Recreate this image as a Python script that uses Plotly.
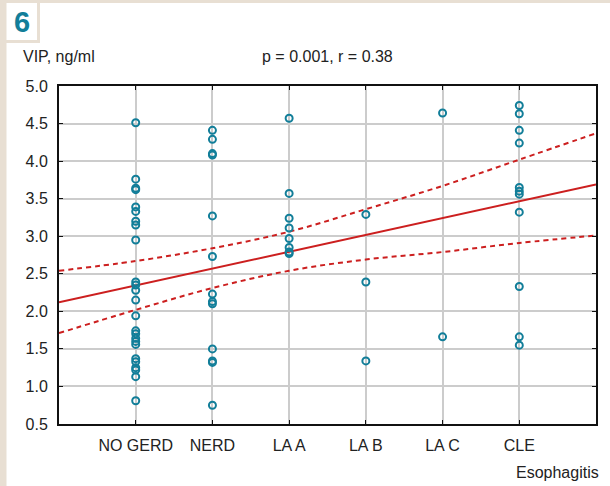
import plotly.graph_objects as go

# categories on the x axis (positions 1..6)
categories = ["NO GERD", "NERD", "LA A", "LA B", "LA C", "CLE"]

# VIP, ng/ml per group
no_gerd = [4.51, 3.76, 3.64, 3.62, 3.39, 3.33, 3.20, 3.15, 2.95, 2.39, 2.35, 2.28, 2.15,
           1.94, 1.74, 1.70, 1.64, 1.60, 1.56, 1.37, 1.33, 1.25, 1.22, 1.13, 0.81]
nerd = [4.41, 4.29, 4.10, 4.08, 3.27, 2.73, 2.23, 2.13, 2.10, 1.50, 1.34, 1.32, 0.75]
la_a = [4.57, 3.57, 3.24, 3.11, 2.97, 2.85, 2.79, 2.77]
la_b = [3.29, 2.39, 1.34]
la_c = [4.64, 1.66]
cle = [4.74, 4.63, 4.41, 4.24, 3.65, 3.60, 3.56, 3.32, 2.33, 1.66, 1.55]
groups = [no_gerd, nerd, la_a, la_b, la_c, cle]

# regression line and 95% band, sampled at x = 0..7
fit_x = [0, 7]
fit_y = [2.12, 3.69]
band_x = [0, 1, 2, 3, 4, 5, 6, 7]
band_upper = [2.54, 2.67, 2.84, 3.06, 3.36, 3.67, 4.02, 4.37]
band_lower = [1.71, 2.02, 2.31, 2.54, 2.69, 2.79, 2.91, 3.01]

W, H = 610, 486
L, R, T, B = 59, 14, 86, 62
PW, PH = W - L - R, H - T - B

def px(x):
    return (x - L) / PW

def py(y):
    return 1 - (y - T) / PH

BEIGE = "#e8dfd3"
TEAL = "#127e99"
RED = "#cc1f1f"
TXT = "#222222"

xs, ys = [], []
for i, g in enumerate(groups):
    xs += [i + 1] * len(g)
    ys += g

fig = go.Figure()
fig.add_trace(go.Scatter(x=band_x, y=band_upper, mode="lines", line_shape="spline",
                         line=dict(color=RED, width=2, dash="5px,4px"), hoverinfo="skip"))
fig.add_trace(go.Scatter(x=band_x, y=band_lower, mode="lines", line_shape="spline",
                         line=dict(color=RED, width=2, dash="5px,4px"), hoverinfo="skip"))
fig.add_trace(go.Scatter(x=fit_x, y=fit_y, mode="lines",
                         line=dict(color=RED, width=2)))
fig.add_trace(go.Scatter(x=xs, y=ys, mode="markers",
                         marker=dict(symbol="circle-open", size=7, color=TEAL,
                                     line=dict(width=2, color=TEAL))))

# beige frame pieces
rects = [(0, 0, 6.5, H), (0, 0, W, 3), (37, 0, 40, 43), (6, 40, 40, 43)]
for x0, y0, x1, y1 in rects:
    fig.add_shape(type="rect", xref="paper", yref="paper",
                  x0=px(x0), x1=px(x1), y0=py(y1), y1=py(y0),
                  fillcolor=BEIGE, line_width=0, layer="below")

font = dict(family="Liberation Sans, Arial, sans-serif", size=16, color=TXT)

def label(text, x, y, xanchor="center", f=font):
    fig.add_annotation(text=text, x=px(x), y=py(y), xref="paper", yref="paper",
                       xanchor=xanchor, yanchor="middle", showarrow=False, font=f)

label("<b>6</b>", 22, 22, f=dict(family="Liberation Sans, Arial", size=29, color=TEAL))
label("VIP, ng/ml", 21, 57, xanchor="left")
label("p = 0.001, r = 0.38", 327, 57)
label("Esophagitis", 601, 472, xanchor="right")

fig.update_layout(
    width=W, height=H, margin=dict(l=L, r=R, t=T, b=B),
    paper_bgcolor="white", plot_bgcolor="white", showlegend=False, font=font,
    xaxis=dict(range=[0, 7], tickvals=[1, 2, 3, 4, 5, 6], ticktext=categories,
               showgrid=True, gridcolor="#cccccc", gridwidth=1.5, zeroline=False,
               showline=True, linecolor="#111111", linewidth=2, mirror="ticks",
               ticks="inside", ticklen=4, tickcolor="#111111", ticklabelstandoff=6),
    yaxis=dict(range=[0.5, 5.0], dtick=0.5, tick0=0.5, tickformat=".1f",
               showgrid=True, gridcolor="#cccccc", gridwidth=1.5, zeroline=False,
               showline=True, linecolor="#111111", linewidth=2, mirror="ticks",
               ticks="inside", ticklen=4, tickcolor="#111111", ticklabelstandoff=6),
)

# drop the browser's default body margin so the figure sits at the page corner
fig.write_html("out.html", config={"displayModeBar": False},
               post_script="document.body.style.margin='0';")
